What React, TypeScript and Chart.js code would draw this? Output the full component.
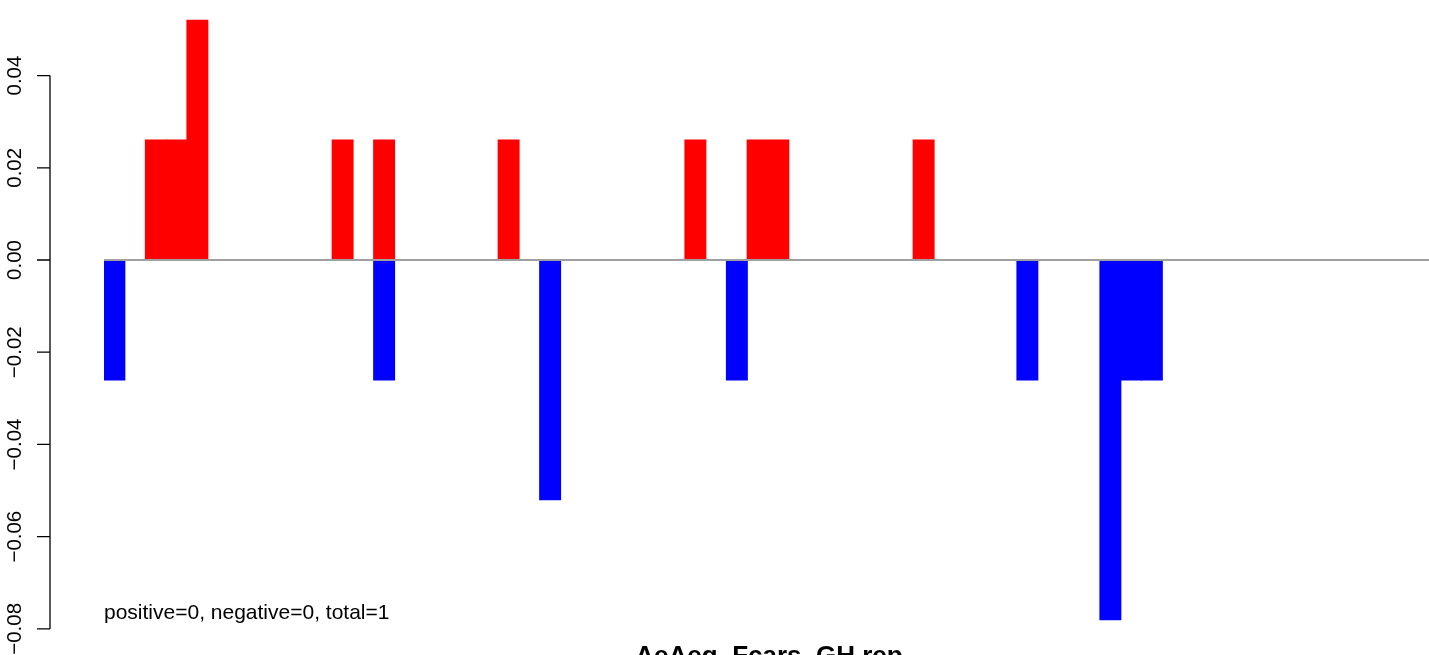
import React, { useEffect, useRef } from "react";
import { Chart, registerables } from "chart.js";

Chart.register(...registerables);

const categories: string[] = Array.from({ length: 64 }, (_, i) => String(i + 1));

const positiveValues: number[] = [
  0, 0, 0.026, 0.026, 0.052, 0, 0, 0, 0, 0, 0, 0.026, 0, 0.026, 0, 0,
  0, 0, 0, 0.026, 0, 0, 0, 0, 0, 0, 0, 0, 0.026, 0, 0, 0.026,
  0.026, 0, 0, 0, 0, 0, 0, 0.026, 0, 0, 0, 0, 0, 0, 0, 0,
  0, 0, 0, 0, 0, 0, 0, 0, 0, 0, 0, 0, 0, 0, 0, 0,
];

const negativeValues: number[] = [
  -0.026, 0, 0, 0, 0, 0, 0, 0, 0, 0, 0, 0, 0, -0.026, 0, 0,
  0, 0, 0, 0, 0, -0.052, 0, 0, 0, 0, 0, 0, 0, 0, -0.026, 0,
  0, 0, 0, 0, 0, 0, 0, 0, 0, 0, 0, 0, -0.026, 0, 0, 0,
  -0.078, -0.026, -0.026, 0, 0, 0, 0, 0, 0, 0, 0, 0, 0, 0, 0, 0,
];

const yTicks: number[] = [0.04, 0.02, 0.0, -0.02, -0.04, -0.06, -0.08];
const yTickLabels: string[] = ["0.04", "0.02", "0.00", "\u22120.02", "\u22120.04", "\u22120.06", "\u22120.08"];

const chartTitle = "AeAeg_Fcars_GH.rep";
const noteText = "positive=0, negative=0, total=1";

const FONT = "'Liberation Sans', Arial, Helvetica, sans-serif";

const decorPlugin = {
  id: "rDecor",
  afterDatasetsDraw(chart: any) {
    const ctx = chart.ctx as CanvasRenderingContext2D;
    const y = chart.scales.y;
    const area = chart.chartArea;
    ctx.save();
    // zero line
    const y0 = y.getPixelForValue(0);
    ctx.strokeStyle = "#a0a0a0";
    ctx.lineWidth = 2;
    ctx.beginPath();
    ctx.moveTo(area.left, y0);
    ctx.lineTo(1429, y0);
    ctx.stroke();

    // y axis
    const axisX = 50;
    const top = y.getPixelForValue(yTicks[0]);
    const bot = y.getPixelForValue(yTicks[yTicks.length - 1]);
    ctx.strokeStyle = "#000";
    ctx.lineWidth = 1.3;
    ctx.beginPath();
    ctx.moveTo(axisX, top);
    ctx.lineTo(axisX, bot);
    yTicks.forEach((v) => {
      const py = y.getPixelForValue(v);
      ctx.moveTo(axisX, py);
      ctx.lineTo(axisX - 13, py);
    });
    ctx.stroke();

    ctx.fillStyle = "#000";
    ctx.font = `20.5px ${FONT}`;
    ctx.textAlign = "center";
    ctx.textBaseline = "alphabetic";
    yTicks.forEach((v, i) => {
      const py = y.getPixelForValue(v);
      ctx.save();
      ctx.translate(21, py);
      ctx.rotate(-Math.PI / 2);
      ctx.fillText(yTickLabels[i], 0, 0);
      ctx.restore();
    });

    // note
    ctx.textAlign = "left";
    ctx.font = `21px ${FONT}`;
    ctx.fillText(noteText, 104, 619);

    // title
    ctx.textAlign = "center";
    ctx.font = `bold 26px ${FONT}`;
    ctx.fillText(chartTitle, 769, 664);
    ctx.restore();
  },
};

export default function App() {
  const canvasRef = useRef<HTMLCanvasElement | null>(null);

  useEffect(() => {
    if (!canvasRef.current) return;
    const chart = new Chart(canvasRef.current, {
      type: "bar",
      data: {
        labels: categories,
        datasets: [
          {
            label: "positive",
            data: positiveValues.map((v) => (v === 0 ? null : v)),
            backgroundColor: "#ff0000",
            borderWidth: 0,
            inflateAmount: 0.6,
            categoryPercentage: 1,
            barPercentage: 1,
          },
          {
            label: "negative",
            data: negativeValues.map((v) => (v === 0 ? null : v)),
            backgroundColor: "#0000ff",
            borderWidth: 0,
            inflateAmount: 0.6,
            categoryPercentage: 1,
            barPercentage: 1,
          },
        ],
      },
      options: {
        responsive: false,
        animation: false,
        layout: { padding: { left: 104, right: 0, top: 0, bottom: 0 } },
        plugins: {
          legend: { display: false },
          tooltip: { enabled: false },
          title: { display: false },
        },
        scales: {
          x: { display: false, stacked: true, offset: true },
          y: {
            display: false,
            stacked: true,
            min: -(655 - 260) / 4611,
            max: 260 / 4611,
          },
        },
      },
      plugins: [decorPlugin],
    });
    return () => chart.destroy();
  }, []);

  return (
    <div
      style={{
        position: "fixed",
        left: 0,
        top: 0,
        width: 1429,
        height: 655,
        overflow: "hidden",
        background: "#fff",
      }}
    >
      <canvas ref={canvasRef} width={1432} height={655} style={{ display: "block" }} />
    </div>
  );
}
